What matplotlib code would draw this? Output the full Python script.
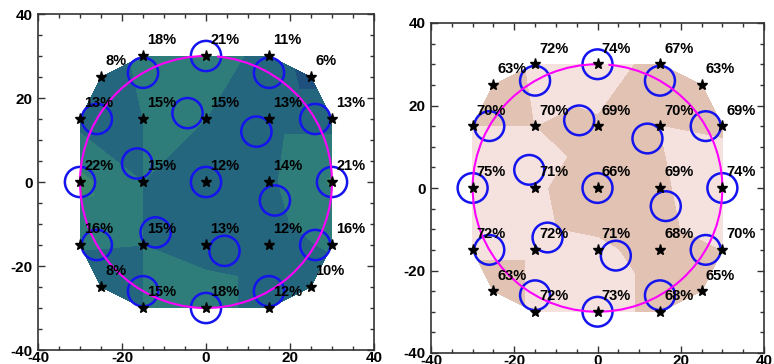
import numpy as np
import matplotlib
matplotlib.use('Agg')
import matplotlib.pyplot as plt
import matplotlib.tri as mtri
from matplotlib.patches import Circle, Arc
from matplotlib.ticker import MultipleLocator

plt.rcParams['font.family'] = ['Liberation Sans', 'DejaVu Sans']
plt.rcParams['font.weight'] = 'bold'
plt.rcParams['axes.unicode_minus'] = False

# Measurement positions (stars)
pos_x = [-15, 0, 15, -25, 25, -30, -15, 0, 15, 30, -30, -15, 0, 15, 30,
         -30, -15, 0, 15, 30, -25, 25, -15, 0, 15]
pos_y = [30, 30, 30, 25, 25, 15, 15, 15, 15, 15, 0, 0, 0, 0, 0,
         -15, -15, -15, -15, -15, -25, -25, -30, -30, -30]

# Percent values for each panel
left_vals = [18, 21, 11, 8, 6, 13, 15, 15, 13, 13, 22, 15, 12, 14, 21,
             16, 15, 13, 12, 16, 8, 10, 15, 18, 12]
right_vals = [72, 74, 67, 63, 63, 70, 70, 69, 70, 69, 75, 71, 66, 69, 74,
              72, 72, 71, 68, 70, 63, 65, 72, 73, 68]

# Blue circle (fiber) centres
fiber_x = [0, -15, 15, -26, 26, -4.4, 12, -16.4, -30, 0, 30, 16.4,
           -26, 26, -12, 4.4, -15, 15, 0]
fiber_y = [30, 26, 26, 15, 15, 16.4, 12, 4.4, 0, 0, 0, -4.4,
           -15, -15, -12, -16.4, -26, -26, -30]
fiber_r = 3.6
field_r = 30

tick_vals = [-40, -20, 0, 20, 40]
tick_labels = ['-40', '-20', '0', '20', '40']

left_levels = [0, 8, 15, 20.5, 30]
left_colors = ['#1f4f7d', '#25667f', '#2f7d7b', '#3c8b6c']
right_levels = [55, 70, 80]
right_colors = ['#e2c2b2', '#f5e2df']

fig = plt.figure(figsize=(7.74, 3.64), dpi=100)
ax1 = fig.add_axes([38/774, 14/364, 336/774, 336/364])
ax2 = fig.add_axes([431/774, 11/364, 333/774, 330/364])

tri = mtri.Triangulation(pos_x, pos_y)

def draw(ax, vals, levels, colors):
    ax.tricontourf(tri, vals, levels=levels, colors=colors, zorder=1)
    for fx, fy in zip(fiber_x, fiber_y):
        ax.add_patch(Circle((fx, fy), fiber_r, fill=False, ec='#1414ee',
                            lw=1.8, zorder=3))
    ax.add_patch(Arc((0, 0), 2*field_r, 2*field_r, theta1=90, theta2=445,
                     color='#ff00ff', lw=1.5, zorder=4))
    ax.plot(pos_x, pos_y, ls='none', marker='*', ms=8, color='black', zorder=5)
    for x, y, v in zip(pos_x, pos_y, vals):
        ax.text(x + 1, y + 2.8, f'{v}%', fontsize=10.5, fontweight='bold',
                ha='left', va='baseline', zorder=6)
    ax.set_xlim(-40, 40)
    ax.set_ylim(-40, 40)
    ax.set_xticks(tick_vals)
    ax.set_xticklabels(tick_labels, fontsize=11, fontweight='bold')
    ax.set_yticks(tick_vals)
    ax.set_yticklabels(tick_labels, fontsize=11, fontweight='bold')
    ax.xaxis.set_minor_locator(MultipleLocator(5))
    ax.yaxis.set_minor_locator(MultipleLocator(5))
    ax.tick_params(which='both', direction='in', top=True, right=True,
                   color='#333333', width=1)
    ax.tick_params(which='major', length=5)
    ax.tick_params(which='minor', length=3)
    ax.tick_params(axis='x', pad=1)
    ax.tick_params(axis='y', pad=4)
    for s in ax.spines.values():
        s.set_linewidth(1.2)
        s.set_color('#333333')

draw(ax1, left_vals, left_levels, left_colors)
draw(ax2, right_vals, right_levels, right_colors)

fig.savefig('out.png', dpi=100)
